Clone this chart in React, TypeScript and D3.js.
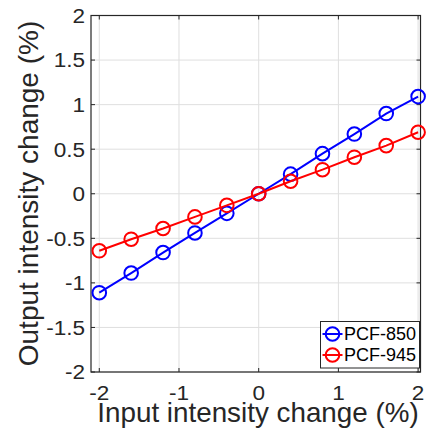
import React from "react";
import * as d3 from "d3";

const xValues = [-2, -1.6, -1.2, -0.8, -0.4, 0, 0.4, 0.8, 1.2, 1.6, 2];
const pcf850 = [-1.11, -0.89, -0.66, -0.44, -0.22, 0, 0.22, 0.45, 0.67, 0.9, 1.09];
const pcf945 = [-0.64, -0.51, -0.39, -0.26, -0.13, 0, 0.14, 0.27, 0.41, 0.54, 0.69];
const xTicks = [-2, -1, 0, 1, 2];
const yTicks = [-2, -1.5, -1, -0.5, 0, 0.5, 1, 1.5, 2];
const seriesNames = ["PCF-850", "PCF-945"];
const seriesColors = ["#0000ff", "#ff0000"];

const W = 427;
const H = 441;
const left = 91;
const right = 420.5;
const top = 15.5;
const bottom = 372;
const axisColor = "#262626";
const gridColor = "#dfdfdf";
const font = "'Liberation Sans', Arial, Helvetica, sans-serif";

export default function App() {
  const x = d3.scaleLinear().domain([-2.104, 2.03]).range([left, right]);
  const y = d3.scaleLinear().domain([-2, 2]).range([bottom, top]);
  const line = d3
    .line<number>()
    .x((_, i) => x(xValues[i]))
    .y((d) => y(d));
  const series = [pcf850, pcf945];
  const tick = 4;

  const legX = 320.5;
  const legY = 321.5;
  const legW = 99;
  const legH = 46.5;

  return (
    <svg width={W} height={H} style={{ position: "absolute", left: 0, top: 0 }}>
      <rect x={0} y={0} width={W} height={H} fill="#fff" />
      {/* grid */}
      {xTicks.map((t) => (
        <line key={"gx" + t} x1={x(t)} x2={x(t)} y1={top} y2={bottom} stroke={gridColor} strokeWidth={1} />
      ))}
      {yTicks.map((t) => (
        <line key={"gy" + t} x1={left} x2={right} y1={y(t)} y2={y(t)} stroke={gridColor} strokeWidth={1} />
      ))}
      {/* ticks */}
      {xTicks.map((t) => (
        <g key={"tx" + t}>
          <line x1={x(t)} x2={x(t)} y1={bottom} y2={bottom - tick} stroke={axisColor} />
          <line x1={x(t)} x2={x(t)} y1={top} y2={top + tick} stroke={axisColor} />
          <text
            transform={`translate(${x(t)},400) scale(1.1,1)`}
            textAnchor="middle"
            fontFamily={font}
            fontSize={20.5}
            fill={axisColor}
          >
            {t}
          </text>
        </g>
      ))}
      {yTicks.map((t) => (
        <g key={"ty" + t}>
          <line x1={left} x2={left + tick} y1={y(t)} y2={y(t)} stroke={axisColor} />
          <line x1={right} x2={right - tick} y1={y(t)} y2={y(t)} stroke={axisColor} />
          <text
            transform={`translate(85,${y(t)}) scale(1.1,1)`}
            dy="0.36em"
            textAnchor="end"
            fontFamily={font}
            fontSize={20.5}
            fill={axisColor}
          >
            {t}
          </text>
        </g>
      ))}
      {/* box */}
      <rect x={left} y={top} width={right - left} height={bottom - top} fill="none" stroke={axisColor} strokeWidth={1.2} />
      {/* series */}
      {series.map((s, k) => (
        <g key={"s" + k}>
          <path d={line(s) || ""} fill="none" stroke={seriesColors[k]} strokeWidth={2} />
          {s.map((v, i) => (
            <circle key={i} cx={x(xValues[i])} cy={y(v)} r={6.8} fill="none" stroke={seriesColors[k]} strokeWidth={2} />
          ))}
        </g>
      ))}
      {/* legend */}
      <rect x={legX} y={legY} width={legW} height={legH} fill="#fff" stroke={axisColor} strokeWidth={1} />
      {seriesNames.map((n, k) => {
        const cy = legY + 12.5 + k * 21;
        return (
          <g key={n}>
            <line x1={legX + 2} x2={legX + 22} y1={cy} y2={cy} stroke={seriesColors[k]} strokeWidth={2} />
            <circle cx={legX + 12} cy={cy} r={6.8} fill="none" stroke={seriesColors[k]} strokeWidth={2} />
            <text x={legX + 23.5} y={cy} dy="0.36em" fontFamily={font} fontSize={18} fill="#000">
              {n}
            </text>
          </g>
        );
      })}
      {/* axis titles */}
      <text x={258} y={422} textAnchor="middle" fontFamily={font} fontSize={27.8} fill={axisColor}>
        Input intensity change (%)
      </text>
      <text
        transform={`translate(38,193.5) rotate(-90)`}
        textAnchor="middle"
        fontFamily={font}
        fontSize={28}
        fill={axisColor}
      >
        Output intensity change (%)
      </text>
    </svg>
  );
}
